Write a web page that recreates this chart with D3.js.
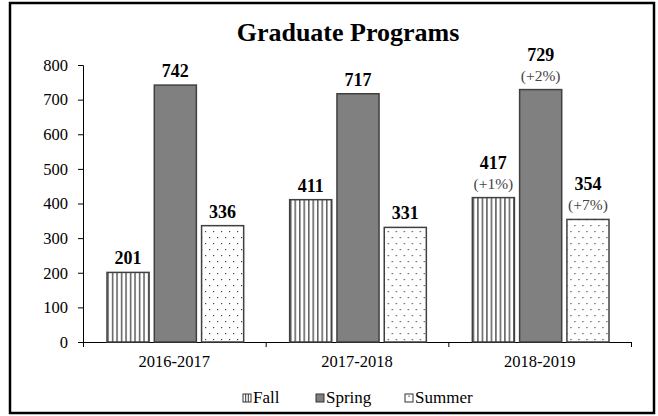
<!DOCTYPE html>
<html>
<head>
<meta charset="utf-8">
<script src="https://cdn.jsdelivr.net/npm/d3@7"></script>
<style>
  body { margin: 0; background: #fff; }
  text { font-family: "Liberation Serif", "DejaVu Serif", serif; }
</style>
</head>
<body>
<svg id="chart" width="658" height="416"></svg>
<script>
// data
var years = ["2016-2017", "2017-2018", "2018-2019"]
var terms = ["Fall", "Spring", "Summer"]
var fall = [201, 411, 417]
var spring = [742, 717, 729]
var summer = [336, 331, 354]
var fallPct = ["", "", "(+1%)"]
var springPct = ["", "", "(+2%)"]
var summerPct = ["", "", "(+7%)"]
var yTicks = [0, 100, 200, 300, 400, 500, 600, 700, 800]

var values = {Fall: fall, Spring: spring, Summer: summer}
var pcts = {Fall: fallPct, Spring: springPct, Summer: summerPct}

var svg = d3.select('#chart')
var plotLeft = 83, plotRight = 631, plotTop = 65, plotBottom = 342

// patterns
var defs = svg.append('defs')
var stripes = defs.append('pattern')
  .attr('id', 'stripes')
  .attr('patternUnits', 'userSpaceOnUse')
  .attr('width', 4.5).attr('height', 10)
stripes.append('rect').attr('width', 4.5).attr('height', 10).attr('fill', 'white')
stripes.append('rect').attr('x', 2).attr('width', 1.2).attr('height', 10).attr('fill', '#333')

var dots = defs.append('pattern')
  .attr('id', 'dots')
  .attr('patternUnits', 'userSpaceOnUse')
  .attr('width', 8).attr('height', 12)
dots.append('rect').attr('width', 8).attr('height', 12).attr('fill', 'white')
dots.append('rect').attr('x', 2).attr('y', 3).attr('width', 1.2).attr('height', 1.2).attr('fill', '#444')
dots.append('rect').attr('x', 6).attr('y', 9).attr('width', 1.2).attr('height', 1.2).attr('fill', '#444')

var fills = {Fall: 'url(#stripes)', Spring: '#808080', Summer: 'url(#dots)'}

// frame
svg.append('rect')
  .attr('x', 10).attr('y', 3)
  .attr('width', 644).attr('height', 410)
  .attr('fill', 'none')
  .attr('stroke', 'black')
  .attr('stroke-width', 2.5)

svg.append('text')
  .attr('x', 348).attr('y', 41)
  .attr('text-anchor', 'middle')
  .attr('font-size', 26)
  .attr('font-weight', 'bold')
  .text('Graduate Programs')

var x0 = d3.scaleBand().domain(years).range([plotLeft, plotRight])
var x1 = d3.scaleBand().domain(terms).range([24, x0.bandwidth() - 22]).paddingInner(0.11)
var y = d3.scaleLinear().domain([0, 800]).range([plotBottom, plotTop])

// y axis
var yAxis = svg.append('g')
  .attr('transform', 'translate(' + plotLeft + ',0)')
  .call(d3.axisLeft(y).tickValues(yTicks).tickSize(5).tickSizeOuter(5).tickPadding(10))
yAxis.selectAll('text')
  .attr('font-size', 16.5)
  .attr('fill', 'black')
  .style('font-family', '"Liberation Serif", serif')
yAxis.selectAll('path, line').attr('stroke', 'black')

// x axis, ticks on the group boundaries
var bounds = years.map(function(d) { return x0(d) }).concat([plotRight])
var xAxis = svg.append('g')
  .attr('transform', 'translate(0,' + plotBottom + ')')
  .call(d3.axisBottom(d3.scaleLinear().domain([plotLeft, plotRight]).range([plotLeft, plotRight]))
    .tickValues(bounds).tickSize(5).tickSizeOuter(0).tickFormat(''))
xAxis.selectAll('path, line').attr('stroke', 'black')

svg.append('g').selectAll('text')
  .data(years)
  .enter()
  .append('text')
  .attr('x', function(d) { return x0(d) + x0.bandwidth() / 2 })
  .attr('y', plotBottom + 25)
  .attr('text-anchor', 'middle')
  .attr('font-size', 16.5)
  .text(function(d) { return d })

// bars
var groups = svg.append('g').selectAll('g')
  .data(years)
  .enter()
  .append('g')
  .attr('transform', function(d) { return 'translate(' + x0(d) + ',0)' })

function rows(d, i) {
  return terms.map(function(t) { return {term: t, v: values[t][i], pct: pcts[t][i]} })
}

groups.selectAll('rect')
  .data(rows)
  .enter()
  .append('rect')
  .attr('x', function(d) { return x1(d.term) })
  .attr('y', function(d) { return y(d.v) })
  .attr('width', x1.bandwidth())
  .attr('height', function(d) { return plotBottom - y(d.v) })
  .attr('fill', function(d) { return fills[d.term] })
  .attr('stroke', '#404040')
  .attr('stroke-width', 1.5)

var labels = groups.selectAll('g.lab')
  .data(rows)
  .enter()
  .append('g')
  .attr('class', 'lab')

labels.append('text')
  .attr('x', function(d) { return x1(d.term) + x1.bandwidth() / 2 })
  .attr('y', function(d) { return y(d.v) - (d.pct ? 29 : 8) })
  .attr('text-anchor', 'middle')
  .attr('font-size', 18)
  .attr('font-weight', 'bold')
  .text(function(d) { return d.v })

labels.filter(function(d) { return d.pct })
  .append('text')
  .attr('x', function(d) { return x1(d.term) + x1.bandwidth() / 2 })
  .attr('y', function(d) { return y(d.v) - 9 })
  .attr('text-anchor', 'middle')
  .attr('font-size', 15.5)
  .attr('fill', '#444')
  .text(function(d) { return d.pct })

// legend
var legX = [243, 316, 405]
var leg = svg.append('g').selectAll('g')
  .data(terms)
  .enter()
  .append('g')
  .attr('transform', function(d, i) { return 'translate(' + legX[i] + ',394)' })

leg.append('rect')
  .attr('width', 8).attr('height', 8)
  .attr('fill', function(d) { return d === 'Spring' ? '#808080' : 'white' })
  .attr('stroke', '#333')
  .attr('stroke-width', 1)

// tiny pattern marks inside the legend boxes
leg.filter(function(d) { return d === 'Fall' })
  .selectAll('line')
  .data([2.7, 5.3])
  .enter()
  .append('line')
  .attr('x1', function(d) { return d }).attr('x2', function(d) { return d })
  .attr('y1', 0).attr('y2', 8)
  .attr('stroke', '#333')
leg.filter(function(d) { return d === 'Summer' })
  .append('rect')
  .attr('x', 3.5).attr('y', 1.5).attr('width', 1.2).attr('height', 1.2).attr('fill', '#333')

leg.append('text')
  .attr('x', 10)
  .attr('y', 9)
  .attr('font-size', 17)
  .text(function(d) { return d })
</script>
</body>
</html>
